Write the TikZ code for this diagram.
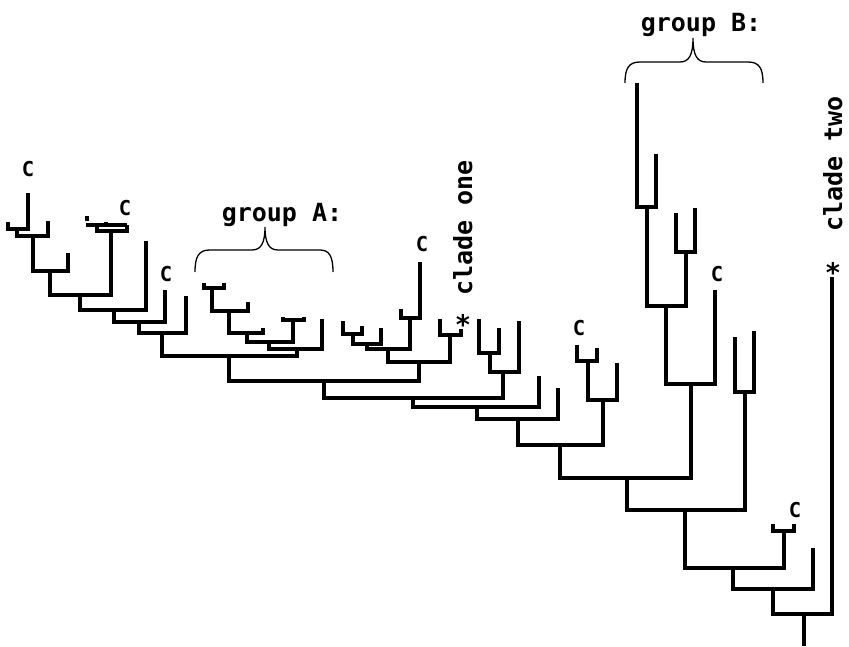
\documentclass[tikz,border=0pt]{standalone}
\usepackage{fontspec}
\newfontfamily\tagfont{DejaVu Sans Mono}
\begin{document}
\begin{tikzpicture}[x=1pt,y=-1pt,
  branch/.style={line width=3.2pt},
  bracket/.style={line width=1.3pt},
  ctag/.style={font=\tagfont\bfseries\fontsize{20.5}{20.5}\selectfont, inner sep=0pt, anchor=base},
  grouptag/.style={font=\tagfont\bfseries\fontsize{25}{25}\selectfont, inner sep=0pt, anchor=base},
  cladetag/.style={font=\tagfont\bfseries\fontsize{25}{25}\selectfont, inner sep=0pt, anchor=base, rotate=90},
  startag/.style={font=\tagfont\bfseries\fontsize{27}{27}\selectfont, inner sep=0pt, anchor=center}]
\useasboundingbox (0,0) rectangle (849,647);

% ---- left-most clade ----
\coordinate (l1) at (8,222);
\coordinate (l2) at (28,193);
\coordinate (n1) at (17,229);
\coordinate (l3) at (48,221);
\coordinate (n2) at (33,236);
\coordinate (l4) at (68,253);
\coordinate (n3) at (50,271);
\coordinate (l5) at (97,225);
\coordinate (l6) at (127,225);
\coordinate (nc) at (111,231);
\coordinate (s1) at (86,225);
\coordinate (s2) at (106,222);
\coordinate (s3) at (87,216);
\coordinate (s4) at (87,221);
\coordinate (n4) at (80,295);
\coordinate (l7) at (146,241);
\coordinate (n5) at (114,310);
\coordinate (l8) at (165,290);
\coordinate (n6) at (139,322);
\coordinate (l9) at (186,296);
\coordinate (n7) at (162,333);

% ---- group A ----
\coordinate (a1) at (204,283);
\coordinate (a2) at (224,283);
\coordinate (m1) at (212,288);
\coordinate (a3) at (248,302);
\coordinate (m2) at (229,311);
\coordinate (a4) at (263,328);
\coordinate (m3) at (247,333);
\coordinate (a5) at (283,317);
\coordinate (a6) at (304,317);
\coordinate (m4) at (293,320);
\coordinate (m5) at (269,342);
\coordinate (a7) at (322,319);
\coordinate (m6) at (297,349);
\coordinate (n8) at (229,356);

% ---- clade one ----
\coordinate (b1) at (343,321);
\coordinate (b2) at (362,326);
\coordinate (k1) at (353,334);
\coordinate (b3) at (381,328);
\coordinate (k2) at (367,344);
\coordinate (b4) at (401,309);
\coordinate (b5) at (420,262);
\coordinate (k3) at (410,318);
\coordinate (k4) at (388,349);
\coordinate (b6) at (440,319);
\coordinate (b7) at (461,329);
\coordinate (k5) at (450,335);
\coordinate (k6) at (419,362);
\coordinate (n9) at (324,381);

% ---- middle part ----
\coordinate (d1) at (479,319);
\coordinate (d2) at (499,328);
\coordinate (p1) at (490,353);
\coordinate (d3) at (519,321);
\coordinate (p2) at (503,372);
\coordinate (n10) at (413,398);
\coordinate (d4) at (539,376);
\coordinate (n11) at (477,407);
\coordinate (d5) at (558,388);
\coordinate (n12) at (518,419);
\coordinate (e1) at (577,345);
\coordinate (e2) at (597,348);
\coordinate (q1) at (588,361);
\coordinate (e3) at (617,363);
\coordinate (q2) at (603,400);
\coordinate (n13) at (560,445);

% ---- group B and the base ----
\coordinate (g1) at (637,83);
\coordinate (g2) at (656,154);
\coordinate (r1) at (647,207);
\coordinate (g3) at (676,213);
\coordinate (g4) at (695,208);
\coordinate (r2) at (686,252);
\coordinate (r3) at (666,306);
\coordinate (g5) at (715,290);
\coordinate (r4) at (691,384);
\coordinate (n14) at (627,478);
\coordinate (g6) at (735,337);
\coordinate (g7) at (754,331);
\coordinate (r5) at (745,392);
\coordinate (n15) at (685,510);
\coordinate (h1) at (773,524);
\coordinate (h2) at (794,524);
\coordinate (r6) at (784,531);
\coordinate (n16) at (733,568);
\coordinate (h3) at (813,548);
\coordinate (n17) at (773,589);
\coordinate (h4) at (832,277);
\coordinate (root) at (804,614);
\coordinate (base) at (804,646);

\begin{scope}[branch]
  \draw (l1) |- (n1) -| (l2);
  \draw (n1) |- (n2) -| (l3);
  \draw (n2) |- (n3) -| (l4);
  \draw (l5) |- (nc) -| (l6);
  \draw (s1) -- (l6);
  \draw (s2) -- (s2 |- l6);
  \draw (s3) -- (s4);
  \draw (n3) |- (n4) -| (nc);
  \draw (n4) |- (n5) -| (l7);
  \draw (n5) |- (n6) -| (l8);
  \draw (n6) |- (n7) -| (l9);

  \draw (a1) |- (m1) -| (a2);
  \draw (m1) |- (m2) -| (a3);
  \draw (m2) |- (m3) -| (a4);
  \draw (a5) |- (m4) -| (a6);
  \draw (m3) |- (m5) -| (m4);
  \draw (m5) |- (m6) -| (a7);
  \draw (n7) |- (n8) -| (m6);

  \draw (b1) |- (k1) -| (b2);
  \draw (k1) |- (k2) -| (b3);
  \draw (b4) |- (k3) -| (b5);
  \draw (k2) |- (k4) -| (k3);
  \draw (b6) |- (k5) -| (b7);
  \draw (k4) |- (k6) -| (k5);
  \draw (n8) |- (n9) -| (k6);

  \draw (d1) |- (p1) -| (d2);
  \draw (p1) |- (p2) -| (d3);
  \draw (n9) |- (n10) -| (p2);
  \draw (n10) |- (n11) -| (d4);
  \draw (n11) |- (n12) -| (d5);
  \draw (e1) |- (q1) -| (e2);
  \draw (q1) |- (q2) -| (e3);
  \draw (n12) |- (n13) -| (q2);

  \draw (g1) |- (r1) -| (g2);
  \draw (g3) |- (r2) -| (g4);
  \draw (r1) |- (r3) -| (r2);
  \draw (r3) |- (r4) -| (g5);
  \draw (n13) |- (n14) -| (r4);
  \draw (g6) |- (r5) -| (g7);
  \draw (n14) |- (n15) -| (r5);
  \draw (h1) |- (r6) -| (h2);
  \draw (n15) |- (n16) -| (r6);
  \draw (n16) |- (n17) -| (h3);
  \draw (n17) |- (root) -| (h4);
  \draw (root) -- (base);
\end{scope}

% ---- braces over the two groups ----
\draw[bracket] (195,272) .. controls (195,256) and (199,250) .. (210,250)
  -- (252,250) .. controls (261,250) and (265,243) .. (265,227)
  .. controls (265,243) and (269,250) .. (278,250)
  -- (320,250) .. controls (329,250) and (333,256) .. (333,272);
\draw[bracket] (625,83) .. controls (625,68) and (629,62) .. (640,62)
  -- (680,62) .. controls (689,62) and (693,55) .. (693,38)
  .. controls (693,55) and (697,62) .. (706,62)
  -- (748,62) .. controls (759,62) and (763,68) .. (763,83);

% ---- labels ----
\node[grouptag] (tA) at (282,222) {group A:};
\node[grouptag] (tB) at (701,32) {group B:};
\node[cladetag] (t1) at (472,228) {clade one};
\node[cladetag] (t2) at (842,164) {clade two};
\node[startag] (st1) at (463,324) {*};
\node[startag] (st2) at (833,272) {*};

\node[ctag] (c1) at (28,177) {C};
\node[ctag] (c2) at (125,216) {C};
\node[ctag] (c3) at (166,282) {C};
\node[ctag] (c4) at (422,252) {C};
\node[ctag] (c5) at (579,335) {C};
\node[ctag] (c6) at (717,281) {C};
\node[ctag] (c7) at (795,517) {C};
\end{tikzpicture}
\end{document}
